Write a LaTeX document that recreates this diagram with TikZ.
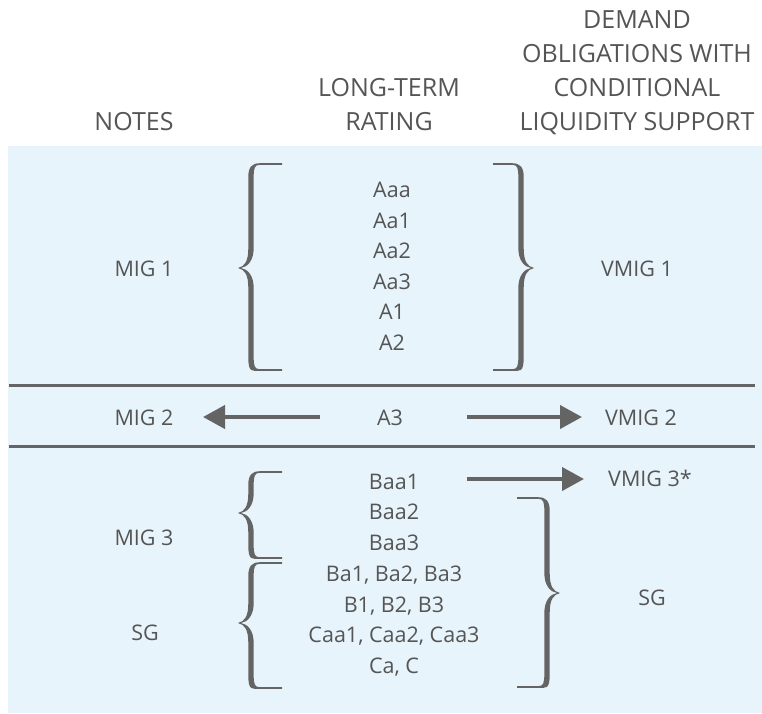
\documentclass[tikz,border=0pt]{standalone}
\usepackage{fontspec}
\setmainfont{Open Sans}
\usetikzlibrary{arrows.meta}
\definecolor{txt}{HTML}{555555}
\definecolor{ink}{HTML}{646464}
\definecolor{panel}{HTML}{E8F4FB}
\tikzset{
  hdr/.style={font=\fontsize{25}{34}\selectfont, text=txt, align=center, inner sep=0pt, anchor=base},
  lbl/.style={font=\fontsize{21.5}{25}\selectfont, text=txt, anchor=base, inner sep=0pt},
  rule/.style={draw=ink, line width=3pt},
  arr/.style={draw=ink, line width=4pt, -{Triangle[length=22pt,width=23pt]}},
  bfill/.style={fill=ink, draw=none},
}
% #1 name, #2 stem x, #3 dir (+1: ends to the right), #4 ytop, #5 ytip, #6 ybot, #7 end length
\newcommand{\mybrace}[7]{%
  \coordinate (#1-tip) at ({#2-#3*13},#5);
  \fill[bfill] ({#2+#3*#7},{#4-0.8}) -- ({#2+#3*9},{#4-0.8})
     .. controls ({#2+#3*1},{#4-0.8}) and ({#2-#3*2.7},{#4+3}) .. ({#2-#3*2.7},{#4+13})
     -- ({#2-#3*2.7},{#5-20}) .. controls ({#2-#3*2.7},{#5-7}) and ({#2-#3*6},{#5-1.5}) .. (#1-tip)
     .. controls ({#2-#3*6},{#5+1.5}) and ({#2-#3*2.7},{#5+7}) .. ({#2-#3*2.7},{#5+20})
     -- ({#2-#3*2.7},{#6-13}) .. controls ({#2-#3*2.7},{#6+3}) and ({#2+#3*1},{#6+0.8}) .. ({#2+#3*9},{#6+0.8})
     -- ({#2+#3*#7},{#6+0.8}) -- ({#2+#3*#7},{#6-0.8}) -- ({#2+#3*9},{#6-0.8})
     .. controls ({#2+#3*3.5},{#6-0.8}) and ({#2+#3*2.7},{#6-4}) .. ({#2+#3*2.7},{#6-13})
     -- ({#2+#3*2.7},{#5+20}) .. controls ({#2+#3*2.7},{#5+8}) and ({#2-#3*3},{#5+1}) .. ({#2-#3*10},#5)
     .. controls ({#2-#3*3},{#5-1}) and ({#2+#3*2.7},{#5-8}) .. ({#2+#3*2.7},{#5-20})
     -- ({#2+#3*2.7},{#4+13}) .. controls ({#2+#3*2.7},{#4+4}) and ({#2+#3*3.5},{#4+0.8}) .. ({#2+#3*9},{#4+0.8})
     -- ({#2+#3*#7},{#4+0.8}) -- cycle;
}
\begin{document}
\begin{tikzpicture}[x=1pt,y=-1pt]
\useasboundingbox (0,0) rectangle (762,713);
\fill[panel] (8,146) rectangle (762,713);
% headers
\node[hdr] (hnotes) at (134,130) {NOTES};
\node[hdr] (hlt1) at (389,96) {LONG-TERM};
\node[hdr] (hlt2) at (389,130) {RATING};
\node[hdr] (hd1) at (637,28) {DEMAND};
\node[hdr] (hd2) at (637,62) {OBLIGATIONS WITH};
\node[hdr] (hd3) at (637,96) {CONDITIONAL};
\node[hdr] (hd4) at (637,130) {LIQUIDITY SUPPORT};
% rules
\coordinate (r1a) at (9,385); \coordinate (r1b) at (755,385);
\coordinate (r2a) at (9,446); \coordinate (r2b) at (755,446);
\draw[rule] (r1a) -- (r1b);
\draw[rule] (r2a) -- (r2b);
% top block
\node[lbl] (aaa) at (392,197) {Aaa};
\node[lbl] (aa1) at (392,228) {Aa1};
\node[lbl] (aa2) at (392,258) {Aa2};
\node[lbl] (aa3) at (392,289) {Aa3};
\node[lbl] (a1) at (392,319) {A1};
\node[lbl] (a2) at (392,350) {A2};
\node[lbl] (mig1) at (144,276) {MIG 1};
\node[lbl] (vmig1) at (637,276) {VMIG 1};
\mybrace{b1}{251}{1}{164}{268}{370}{31}
\mybrace{b2}{521}{-1}{164}{268}{370}{28}
% middle row
\node[lbl] (mig2) at (144,425) {MIG 2};
\node[lbl] (a3) at (390,425) {A3};
\node[lbl] (vmig2) at (641,425) {VMIG 2};
\coordinate (l1s) at (320,417); \coordinate (l1e) at (203,417);
\coordinate (r1s) at (467,417); \coordinate (r1e) at (582,417);
\draw[arr] (l1s) -- (l1e);
\draw[arr] (r1s) -- (r1e);
% bottom block
\node[lbl] (baa1) at (394,489) {Baa1};
\node[lbl] (baa2) at (394,519) {Baa2};
\node[lbl] (baa3) at (394,550) {Baa3};
\node[lbl] (ba) at (394,581) {Ba1, Ba2, Ba3};
\node[lbl] (b) at (394,612) {B1, B2, B3};
\node[lbl] (caa) at (394,642) {Caa1, Caa2, Caa3};
\node[lbl] (ca) at (394,673) {Ca, C};
\node[lbl] (vmig3) at (650,486) {VMIG 3*};
\node[lbl] (mig3) at (144,545) {MIG 3};
\node[lbl] (sgl) at (145,640) {SG};
\node[lbl] (sgr) at (652,605) {SG};
\coordinate (b1s) at (467,479); \coordinate (b1e) at (584,479);
\draw[arr] (b1s) -- (b1e);
\mybrace{b3}{251}{1}{472}{513}{558}{31}
\mybrace{b4}{251}{1}{563}{623}{688}{31}
\mybrace{b5}{547}{-1}{498}{593}{687}{30}
\end{tikzpicture}
\end{document}
